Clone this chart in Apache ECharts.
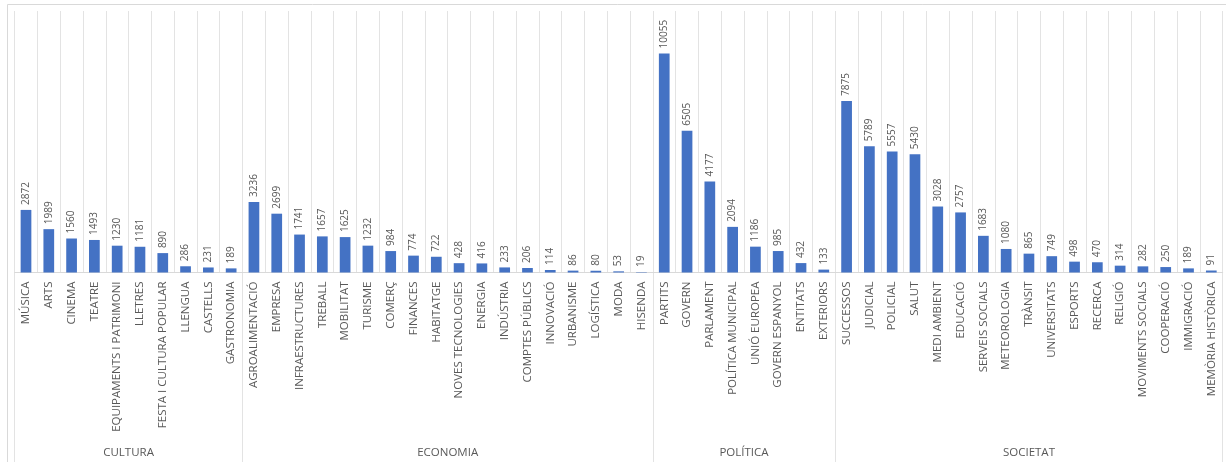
<!DOCTYPE html>
<html>
<head>
<meta charset="utf-8">
<script src="https://cdn.jsdelivr.net/npm/echarts@6/dist/echarts.min.js"></script>
<style>
  html, body { margin: 0; padding: 0; background: #ffffff; }
  #chart { width: 1226px; height: 462px; }
</style>
</head>
<body>
<div id="chart"></div>
<script>
// Topic groups and their article counts
const groupNames = ['CULTURA', 'ECONOMIA', 'POLÍTICA', 'SOCIETAT'];

const culturaTopics = ['MÚSICA', 'ARTS', 'CINEMA', 'TEATRE', 'EQUIPAMENTS I PATRIMONI', 'LLETRES',
  'FESTA I CULTURA POPULAR', 'LLENGUA', 'CASTELLS', 'GASTRONOMIA'];
const culturaValues = [2872, 1989, 1560, 1493, 1230, 1181, 890, 286, 231, 189];

const economiaTopics = ['AGROALIMENTACIÓ', 'EMPRESA', 'INFRAESTRUCTURES', 'TREBALL', 'MOBILITAT', 'TURISME',
  'COMERÇ', 'FINANCES', 'HABITATGE', 'NOVES TECNOLOGIES', 'ENERGIA', 'INDÚSTRIA', 'COMPTES PÚBLICS',
  'INNOVACIÓ', 'URBANISME', 'LOGÍSTICA', 'MODA', 'HISENDA'];
const economiaValues = [3236, 2699, 1741, 1657, 1625, 1232, 984, 774, 722, 428, 416, 233, 206, 114, 86, 80, 53, 19];

const politicaTopics = ['PARTITS', 'GOVERN', 'PARLAMENT', 'POLÍTICA MUNICIPAL', 'UNIÓ EUROPEA',
  'GOVERN ESPANYOL', 'ENTITATS', 'EXTERIORS'];
const politicaValues = [10055, 6505, 4177, 2094, 1186, 985, 432, 133];

const societatTopics = ['SUCCESSOS', 'JUDICIAL', 'POLICIAL', 'SALUT', 'MEDI AMBIENT', 'EDUCACIÓ',
  'SERVEIS SOCIALS', 'METEOROLOGIA', 'TRÀNSIT', 'UNIVERSITATS', 'ESPORTS', 'RECERCA', 'RELIGIÓ',
  'MOVIMENTS SOCIALS', 'COOPERACIÓ', 'IMMIGRACIÓ', 'MEMÒRIA HISTÒRICA'];
const societatValues = [7875, 5789, 5557, 5430, 3028, 2757, 1683, 1080, 865, 749, 498, 470, 314, 282, 250, 189, 91];

const groupTopics = [culturaTopics, economiaTopics, politicaTopics, societatTopics];
const groupValues = [culturaValues, economiaValues, politicaValues, societatValues];

const categories = [].concat(...groupTopics);
const values = [].concat(...groupValues);

// Index where each group starts, and the middle of each group on a 0..N scale
const groupStarts = [];
const groupCenters = [];
let start = 0;
groupTopics.forEach(t => {
  groupStarts.push(start);
  groupCenters.push(start + t.length / 2);
  start += t.length;
});

const FONT = 'Open Sans';
const TEXT = '#595959';
const GRID_LINE = '#e3e3e3';

const chart = echarts.init(document.getElementById('chart'), null, { renderer: 'canvas' });

chart.setOption({
  animation: false,
  backgroundColor: '#ffffff',
  graphic: [{
    type: 'rect',
    silent: true,
    shape: { x: 7.5, y: 4.5, width: 1240, height: 480 },
    style: { fill: 'none', stroke: '#d9d9d9', lineWidth: 1 }
  }],
  grid: [
    { left: 14.6, right: 3.3, top: 11, bottom: 189.5 },
    { left: 14.6, right: 3.3, top: 272.5, bottom: 0 }
  ],
  xAxis: [
    {
      type: 'category',
      gridIndex: 0,
      data: categories,
      axisLine: { lineStyle: { color: '#d9d9d9' } },
      axisTick: { show: false },
      axisLabel: {
        interval: 0,
        rotate: 90,
        margin: 9,
        fontFamily: FONT,
        fontSize: 11.5,
        color: TEXT
      },
      splitLine: { show: true, interval: 0, lineStyle: { color: GRID_LINE } }
    },
    {
      // group separators running through the label band
      type: 'category',
      gridIndex: 1,
      position: 'top',
      data: categories,
      axisLine: { show: false },
      axisTick: { show: false },
      axisLabel: { show: false },
      splitLine: {
        show: true,
        interval: (i) => groupStarts.indexOf(i) !== -1,
        lineStyle: { color: GRID_LINE }
      }
    },
    {
      // group names centred under their topics
      type: 'value',
      gridIndex: 1,
      position: 'bottom',
      min: 0,
      max: categories.length,
      axisLine: { show: false },
      axisTick: { show: false },
      splitLine: { show: false },
      axisLabel: {
        inside: true,
        margin: 3,
        customValues: groupCenters,
        formatter: (v) => {
          const k = groupCenters.indexOf(v);
          return k === -1 ? '' : groupNames[k];
        },
        fontFamily: FONT,
        fontSize: 11.5,
        color: TEXT
      }
    }
  ],
  yAxis: [
    { type: 'value', gridIndex: 0, min: 0, max: 12000, show: false },
    { type: 'value', gridIndex: 1, show: false }
  ],
  series: [{
    type: 'bar',
    xAxisIndex: 0,
    yAxisIndex: 0,
    data: values,
    barWidth: '47%',
    itemStyle: { color: '#4472C4' },
    label: {
      show: true,
      position: 'top',
      rotate: 90,
      align: 'left',
      verticalAlign: 'middle',
      distance: 5,
      fontFamily: FONT,
      fontSize: 10,
      color: TEXT
    }
  }]
});
</script>
</body>
</html>
